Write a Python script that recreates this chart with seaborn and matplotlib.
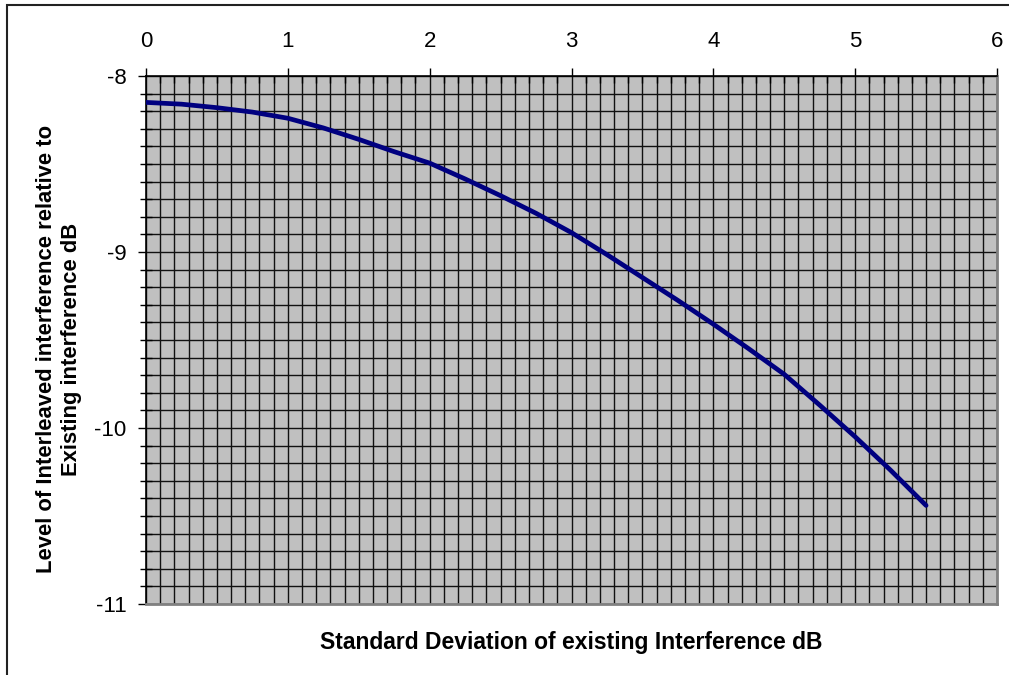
import matplotlib
matplotlib.use("Agg")
import matplotlib.pyplot as plt
import seaborn as sns
import pandas as pd
from matplotlib.ticker import MultipleLocator, FixedLocator
from matplotlib.patches import Rectangle

std_dev = [0.0, 0.25, 0.5, 0.75, 1.0, 1.25, 1.5, 1.75, 2.0, 2.25, 2.5, 2.75, 3.0,
           3.25, 3.5, 3.75, 4.0, 4.25, 4.5, 4.75, 5.0, 5.25, 5.5]
level = [-8.15, -8.16, -8.18, -8.205, -8.24, -8.295, -8.36, -8.43, -8.495, -8.585, -8.68, -8.78, -8.89,
         -9.015, -9.145, -9.275, -9.41, -9.55, -9.695, -9.87, -10.05, -10.24, -10.44]
x_ticks = [0, 1, 2, 3, 4, 5, 6]
y_ticks = [-8, -9, -10, -11]

df = pd.DataFrame({"sd": std_dev, "lvl": level})

sns.set_style("white")
plt.rcParams["font.family"] = ["Liberation Sans", "DejaVu Sans"]
plt.rcParams["text.color"] = "black"
plt.rcParams["xtick.color"] = "black"
plt.rcParams["ytick.color"] = "black"

W, H = 1009, 675
fig = plt.figure(figsize=(W / 100, H / 100), dpi=100)
fig.patch.set_facecolor("white")
ax = fig.add_axes([146 / W, 1 - 604 / H, (997 - 146) / W, (604 - 76) / H])
ax.set_facecolor("#C0C0C0")

sns.lineplot(data=df, x="sd", y="lvl", ax=ax, color="#000080", linewidth=3.4,
             solid_capstyle="round", zorder=5)

ax.set_xlim(0, 6)
ax.set_ylim(-11, -8)
ax.xaxis.set_major_locator(FixedLocator(x_ticks))
ax.yaxis.set_major_locator(FixedLocator(y_ticks))
ax.xaxis.set_minor_locator(MultipleLocator(0.1))
ax.yaxis.set_minor_locator(MultipleLocator(0.1))
ax.grid(True, which="both", color="#111111", linewidth=1.0, zorder=1)
ax.set_axisbelow(True)

ax.xaxis.tick_top()
ax.xaxis.set_label_position("top")
ax.tick_params(axis="x", which="major", direction="out", length=6, width=1, colors="black",
               labelsize=16, labelcolor="black", pad=11, top=True, bottom=False)
ax.tick_params(axis="x", which="minor", direction="in", length=5, width=1, top=True, bottom=False)
ax.tick_params(axis="y", which="major", direction="out", length=6, width=1, colors="black",
               labelsize=16, labelcolor="black", pad=8, left=True, right=False)
ax.tick_params(axis="y", which="minor", direction="inout", length=8, width=1, left=True, right=False)
ax.set_xticklabels([str(t) for t in x_ticks])
ax.set_yticklabels([str(t) for t in y_ticks])

for s in ["top", "left"]:
    ax.spines[s].set_color("black")
    ax.spines[s].set_linewidth(1.2)
for s in ["bottom", "right"]:
    ax.spines[s].set_color("#808080")
    ax.spines[s].set_linewidth(2)

ax.set_xlabel("")
ax.set_ylabel("")

fig.text(571 / W, 1 - 642 / H, "Standard Deviation of existing Interference dB",
         ha="center", va="center", fontsize=16.5, fontweight="bold", color="black")
fig.text(59 / W, 1 - 349 / H, "Level of Interleaved interference relative to\nExisting interference dB",
         ha="center", va="center", rotation=90, fontsize=15.8, fontweight="bold", color="black",
         linespacing=1.2)

fig.patches.append(Rectangle((7 / W, -0.05), 1.1, 1 - 5 / H + 0.05, transform=fig.transFigure,
                             fill=False, edgecolor="#222222", linewidth=1.5))

fig.savefig("out.png", dpi=100)
